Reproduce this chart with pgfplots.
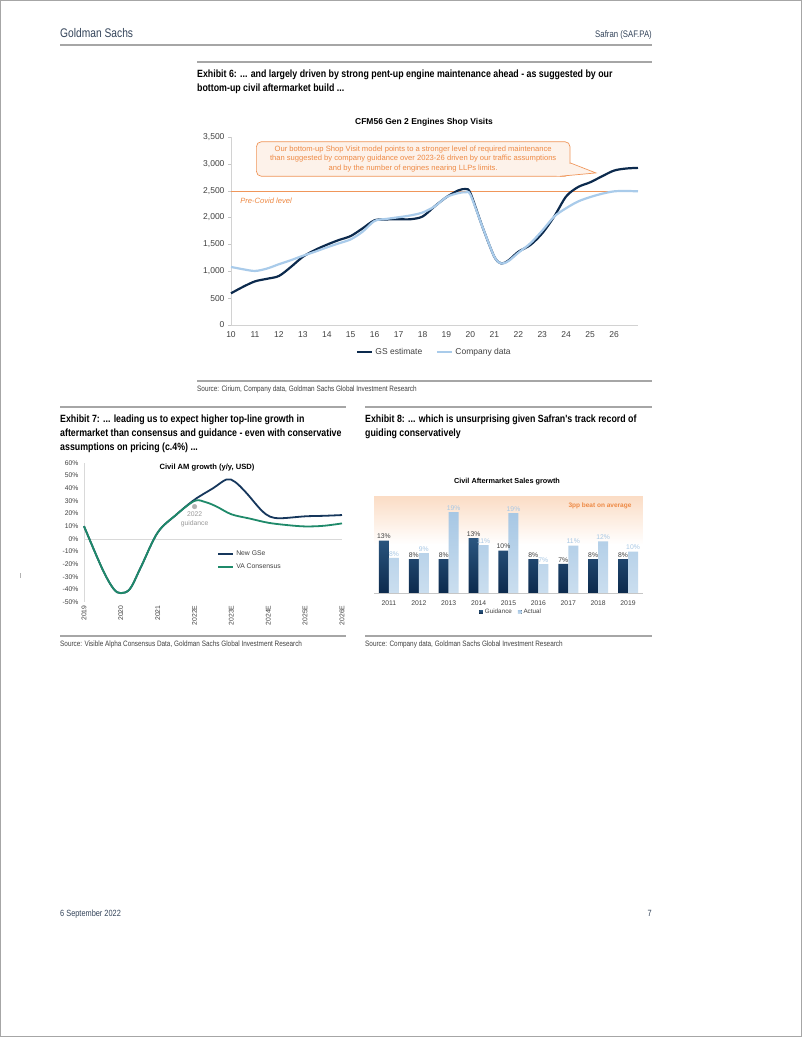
\documentclass[border=0pt]{standalone}
\usepackage{pgfplots}
\pgfplotsset{compat=1.18}
\usepackage{fontspec}
\setmainfont{Liberation Sans}
\newfontfamily\gsf[FakeStretch=0.82]{Liberation Sans}
\newfontfamily\gsb[FakeStretch=0.84]{Liberation Sans}

\definecolor{gsnavy}{HTML}{0C2A4D}
\definecolor{gslight}{HTML}{A9CBEA}
\definecolor{gsorange}{HTML}{EE8A45}
\definecolor{covid}{HTML}{F0965A}
\definecolor{calfill}{HTML}{FDF2EA}
\definecolor{rulegray}{HTML}{A6A6A6}
\definecolor{txt}{HTML}{404040}
\definecolor{vagreen}{HTML}{1F8A6A}
\definecolor{gsenavy}{HTML}{16375C}
\definecolor{barblue}{HTML}{2B5680}
\definecolor{barlight}{HTML}{B4D0E8}
\definecolor{barlighttop}{HTML}{A7C7E4}
\definecolor{peach}{HTML}{FBDDC6}
\definecolor{headtxt}{HTML}{34445A}

\tikzset{rule/.style={draw=rulegray, line width=1.3pt},
  extitle/.style={anchor=base west, inner sep=0, font=\gsb\bfseries\fontsize{10.5}{14}\selectfont},
  source/.style={anchor=base west, inner sep=0, text=txt, font=\gsf\fontsize{7.8}{9}\selectfont}}

\begin{document}
\begin{tikzpicture}[x=1pt,y=1pt]
\path[use as bounding box] (0,0) rectangle (802,1037);
\fill[white] (0,0) rectangle (802,1037);
\draw[gray!70, line width=1pt] (0.5,0.5) rectangle (801.5,1036.5);

% page header
\node[anchor=base west, inner sep=0, text=headtxt, font=\gsf\fontsize{12.5}{14}\selectfont] at (60,999) {Goldman Sachs};
\node[anchor=base east, inner sep=0, text=headtxt, font=\gsf\fontsize{9.5}{11}\selectfont] at (652,999) {Safran (SAF.PA)};
\draw[rule] (60,992) -- (652,992);

% exhibit 6
\draw[rule] (197,975) -- (652,975);
\node[extitle] at (197,959) {Exhibit 6: ... and largely driven by strong pent-up engine maintenance ahead - as suggested by our};
\node[extitle] at (197,945) {bottom-up civil aftermarket build ...};
\node[anchor=base, inner sep=0, font=\bfseries\fontsize{8.5}{10}\selectfont] at (424,912) {CFM56 Gen 2 Engines Shop Visits};

\begin{axis}[
  at={(231pt,712pt)}, anchor=south west,
  scale only axis, width=407pt, height=188pt,
  xmin=10, xmax=27, ymin=0, ymax=3500,
  xtick={10,11,...,26}, ytick={0,500,...,3500},
  axis x line*=bottom, axis y line*=left,
  axis line style={draw=gray!35, -},
  xtick style={draw=none},
  ytick style={draw=gray!45},
  tick align=outside, major tick length=3pt,
  ticklabel style={font=\fontsize{8.5}{10}\selectfont, text=txt},
  /pgf/number format/assume math mode=true,
  yticklabel style={/pgf/number format/1000 sep={,}},
  legend style={at={(0.5,-0.144)}, anchor=center, draw=none, fill=none,
    font=\fontsize{8.5}{10}\selectfont, text=txt, legend columns=2,
    /tikz/every even column/.append style={column sep=12pt}},
  legend image code/.code={\draw[#1] (0pt,0pt)--(15pt,0pt);},
  clip=false,
]
\addplot[draw=covid, line width=1.1pt, forget plot] coordinates {(10,2480)(27,2480)};
\addplot[gsnavy, line width=2.2pt, smooth, tension=0.5] coordinates {
 (10,590)(10.5,710)(11,812)(11.5,860)(12,912)(12.5,1080)(13,1269)(13.5,1394)(14,1494)
 (14.5,1581)(15,1656)(15.5,1800)(16,1950)(16.5,1965)(17,1969)(17.5,1969)(18,2019)(18.5,2206)
 (19,2381)(19.5,2506)(19.8,2531)(20,2456)(20.5,1831)(21,1269)(21.3,1144)(21.6,1206)(22,1363)
 (22.5,1488)(23,1706)(23.5,2019)(24,2394)(24.5,2569)(25,2656)(25.5,2769)(26,2875)(26.5,2913)(27,2925)};
\addlegendentry{GS estimate}
\addplot[gslight, line width=2.2pt, smooth, tension=0.5] coordinates {
 (10,1081)(10.5,1038)(11,1006)(11.5,1050)(12,1131)(12.5,1206)(13,1288)(13.5,1363)(14,1444)
 (14.5,1519)(15,1594)(15.5,1738)(16,1938)(16.5,1975)(17,2006)(17.5,2040)(18,2094)(18.5,2206)
 (19,2381)(19.5,2456)(19.8,2469)(20,2425)(20.5,1831)(21,1269)(21.3,1144)(21.6,1194)(22,1344)
 (22.5,1519)(23,1756)(23.5,2019)(24,2175)(24.5,2300)(25,2381)(25.5,2444)(26,2488)(26.5,2495)(27,2488)};
\addlegendentry{Company data}
% callout
\fill[calfill, draw=covid, line width=0.7pt, rounded corners=5pt] (axis cs:11.06,3412) rectangle (axis cs:24.16,2769);
\fill[calfill] (axis cs:24.16,3000) -- (axis cs:25.24,2831) -- (axis cs:23.6,2769) -- (axis cs:23.6,3000) -- cycle;
\draw[covid, line width=0.7pt] (axis cs:24.16,3019) -- (axis cs:25.24,2831) -- (axis cs:23.75,2769);
\node[align=center, text=gsorange, font=\fontsize{7.6}{9.2}\selectfont] at (axis cs:17.61,3090)
 {Our bottom-up Shop Visit model points to a stronger level of required maintenance\\
  than suggested by company guidance over 2023-26 driven by our traffic assumptions\\
  and by the number of engines nearing LLPs limits.};
\node[anchor=base west, inner sep=0, text=gsorange, font=\itshape\fontsize{7.6}{9}\selectfont] at (axis cs:10.38,2270) {Pre-Covid level};
\end{axis}

\draw[rule] (197,656) -- (652,656);
\node[source] at (197,645) {Source: Cirium, Company data, Goldman Sachs Global Investment Research};

% exhibit 7
\draw[rule] (60,630) -- (346,630);
\node[extitle] at (60,614) {Exhibit 7: ... leading us to expect higher top-line growth in};
\node[extitle] at (60,600) {aftermarket than consensus and guidance - even with conservative};
\node[extitle] at (60,586) {assumptions on pricing (c.4\%) ...};
\node[anchor=base, inner sep=0, font=\bfseries\fontsize{7.6}{9}\selectfont] at (207,567) {Civil AM growth (y/y, USD)};

\begin{axis}[
  at={(84pt,435pt)}, anchor=south west,
  scale only axis, width=258pt, height=139pt,
  xmin=2019, xmax=2026, ymin=-50, ymax=60,
  xtick={2019,...,2026},
  xticklabels={2019,2020,2021,2022E,2023E,2024E,2025E,2026E},
  ytick={-50,-40,...,60},
  axis line style={draw=none},
  major tick length=0pt,
  ticklabel style={font=\fontsize{6.8}{8}\selectfont, text=txt},
  yticklabel style={xshift=-2pt},
  xticklabel style={rotate=90, anchor=east},
  /pgf/number format/assume math mode=true,
  yticklabel={\pgfmathprintnumber{\tick}\%},
  legend style={at={(0.505,0.40)}, anchor=north west, draw=none, fill=none,
    font=\fontsize{6.8}{8}\selectfont, text=txt, row sep=3pt},
  legend image code/.code={\draw[#1] (0pt,0pt)--(15pt,0pt);},
  legend cell align=left,
  clip=false,
]
\draw[gray!30, line width=0.6pt] (axis cs:2019,0) -- (axis cs:2026,0);
\draw[gray!30, line width=0.6pt] (axis cs:2019,-50) -- (axis cs:2019,60);
\addplot[gsenavy, line width=1.8pt, smooth, tension=0.55] coordinates {
 (2019,10)(2019.5,-24)(2019.8,-39.5)(2020,-43)(2020.25,-39.5)(2020.55,-22)(2021,5)(2021.5,19)(2022,31)
 (2022.5,40)(2022.87,47)(2023.1,45)(2023.4,36.5)(2023.8,23)(2024.05,17.5)(2024.35,16.3)(2025,17.8)(2025.5,18.2)(2026,18.8)};
\addlegendentry{New GSe}
\addplot[vagreen, line width=1.8pt, smooth, tension=0.55] coordinates {
 (2019,10)(2019.5,-24)(2019.8,-39.5)(2020,-43)(2020.25,-39.5)(2020.55,-22)(2021,5)(2021.5,19)(2022,30)
 (2022.3,29)(2022.6,25.5)(2023,19.4)(2023.5,16)(2024,12.7)(2024.5,10.9)(2025,9.8)(2025.5,10.3)(2026,12.2)};
\addlegendentry{VA Consensus}
\addplot[only marks, mark=*, mark size=2.3pt, color=gray!60, forget plot] coordinates {(2022,25.5)};
\node[align=center, text=gray!80, font=\fontsize{6.8}{8.4}\selectfont] at (axis cs:2022,15.5) {2022\\guidance};
\end{axis}

\draw[rule] (60,401) -- (346,401);
\node[source] at (60,390) {Source: Visible Alpha Consensus Data, Goldman Sachs Global Investment Research};

% exhibit 8
\draw[rule] (365,630) -- (652,630);
\node[extitle] at (365,614) {Exhibit 8: ... which is unsurprising given Safran's track record of};
\node[extitle] at (365,600) {guiding conservatively};
\node[anchor=base, inner sep=0, font=\bfseries\fontsize{7.3}{9}\selectfont] at (507,553) {Civil Aftermarket Sales growth};

\begin{axis}[
  at={(374pt,444pt)}, anchor=south west,
  scale only axis, width=269pt, height=96pt,
  xmin=2010.5, xmax=2019.5, ymin=0, ymax=22.7,
  ybar=0pt, bar width=10pt,
  xtick={2011,...,2019},
  minor xtick={2010.5,2011.5,...,2019.5},
  axis x line*=bottom, axis y line=none,
  axis line style={draw=gray!45, -},
  xtick style={draw=none},
  minor tick style={draw=gray!45},
  tick align=outside, minor tick length=3pt,
  ticklabel style={font=\fontsize{6.8}{8}\selectfont, text=txt},
  xticklabel style={/pgf/number format/1000 sep={}},
  /pgf/number format/assume math mode=true,
  legend style={at={(0.51,-0.2)}, anchor=center, draw=none, fill=none,
    font=\fontsize{6.3}{8}\selectfont, text=txt, legend columns=2,
    /tikz/every even column/.append style={column sep=4pt}},
  legend image code/.code={\fill[#1] (0pt,-1.8pt) rectangle (3.6pt,1.8pt);},
  clip=false,
]
\fill[top color=peach, bottom color=white] (axis cs:2010.5,22.7) rectangle (axis cs:2019.5,11.5);
\addplot[draw=none, top color=barblue, bottom color=gsnavy,
  nodes near coords, point meta=explicit symbolic,
  every node near coord/.append style={font=\fontsize{6.8}{8}\selectfont, text=txt, inner sep=1.5pt}]
 coordinates {(2011,12.4)[13\%] (2012,8.0)[8\%] (2013,8.0)[8\%] (2014,13.0)[13\%] (2015,10.0)[10\%]
              (2016,8.0)[8\%] (2017,6.9)[7\%] (2018,8.0)[8\%] (2019,8.0)[8\%]};
\addplot[draw=none, top color=barlighttop, bottom color=barlight!70,
  nodes near coords, point meta=explicit symbolic,
  every node near coord/.append style={font=\fontsize{6.8}{8}\selectfont, text=barlighttop, inner sep=1.5pt}]
 coordinates {(2011,8.3)[8\%] (2012,9.4)[9\%] (2013,19.1)[19\%] (2014,11.3)[11\%] (2015,18.9)[19\%]
              (2016,6.8)[7\%] (2017,11.2)[11\%] (2018,12.2)[12\%] (2019,9.8)[10\%]};
\legend{Guidance, Actual}
\node[anchor=base, inner sep=0, text=gsorange, font=\bfseries\fontsize{6.5}{8}\selectfont] at (axis cs:2018.06,20.2) {3pp beat on average};
\end{axis}

\draw[rule] (365,401) -- (652,401);
\node[source] at (365,390) {Source: Company data, Goldman Sachs Global Investment Research};

% footer
\draw[gray!60, line width=0.6pt] (20,459) -- (20,464);
\node[anchor=base west, inner sep=0, text=headtxt, font=\gsf\fontsize{9}{11}\selectfont] at (60,120) {6 September 2022};
\node[anchor=base east, inner sep=0, text=headtxt, font=\gsf\fontsize{9}{11}\selectfont] at (652,120) {7};
\end{tikzpicture}
\end{document}
